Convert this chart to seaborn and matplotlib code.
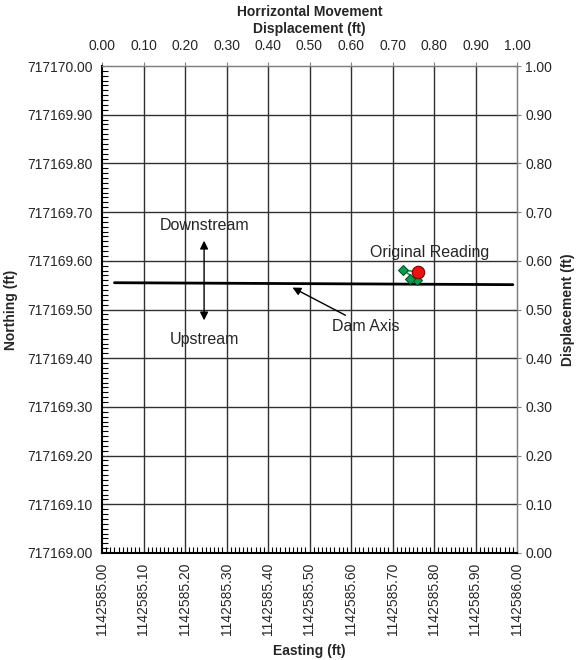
import numpy as np
import pandas as pd
import matplotlib
matplotlib.use("Agg")
import matplotlib.pyplot as plt
from matplotlib.ticker import MultipleLocator
import seaborn as sns

sns.set_style("white")
plt.rcParams['font.family'] = ['Liberation Sans', 'DejaVu Sans']

# ---- data ----
displacement_ticks = [0.0, 0.1, 0.2, 0.3, 0.4, 0.5, 0.6, 0.7, 0.8, 0.9, 1.0]
easting_labels = ["1142585.00", "1142585.10", "1142585.20", "1142585.30", "1142585.40",
                  "1142585.50", "1142585.60", "1142585.70", "1142585.80", "1142585.90",
                  "1142586.00"]
northing_labels = ["717169.00", "717169.10", "717169.20", "717169.30", "717169.40",
                   "717169.50", "717169.60", "717169.70", "717169.80", "717169.90",
                   "717170.00"]
disp_labels = ["0.00", "0.10", "0.20", "0.30", "0.40", "0.50", "0.60", "0.70", "0.80", "0.90", "1.00"]

dam_axis_x = [0.03, 0.99]
dam_axis_y = [0.555, 0.551]

reading_x = [0.762, 0.726, 0.758, 0.742]
reading_y = [0.577, 0.581, 0.560, 0.562]

original_x = [0.762]
original_y = [0.577]

fig = plt.figure(figsize=(5.78, 6.6), dpi=100)
ax = fig.add_axes([102 / 578, 1 - 553 / 660, 415 / 578, 487 / 660])
ax.set_xlim(0, 1)
ax.set_ylim(0, 1)

# grid
for t in displacement_ticks[1:-1]:
    ax.axvline(t, color="#303030", lw=1.0, zorder=1)
    ax.axhline(t, color="#303030", lw=1.0, zorder=1)

# dam axis
sns.lineplot(x=dam_axis_x, y=dam_axis_y, ax=ax, color="black", lw=2.0, zorder=3)

# readings
df = pd.DataFrame({"x": reading_x, "y": reading_y})
sns.lineplot(data=df, x="x", y="y", ax=ax, sort=False, color="#00a050", lw=1.2,
             marker="D", markersize=5, markeredgecolor="#005020", markerfacecolor="#00a050", zorder=4)
sns.scatterplot(x=original_x, y=original_y, ax=ax, color="#ee1111", s=80,
                edgecolor="#800000", linewidth=0.8, zorder=5)

# annotations
fs_ann = 11.5
ax.annotate("", xy=(0.246, 0.647), xytext=(0.246, 0.472),
            arrowprops=dict(arrowstyle="<|-|>", color="black", lw=1.0, mutation_scale=12), zorder=6)
ax.text(0.248, 0.672, "Downstream", ha="center", va="center", fontsize=fs_ann)
ax.text(0.246, 0.439, "Upstream", ha="center", va="center", fontsize=fs_ann)
ax.annotate("Dam Axis", xy=(0.459, 0.545), xytext=(0.555, 0.466),
            arrowprops=dict(arrowstyle="-|>", color="black", lw=1.0, mutation_scale=12,
                            shrinkA=0, shrinkB=0),
            ha="left", va="center", fontsize=fs_ann)
ax.text(0.79, 0.618, "Original Reading", ha="center", va="center", fontsize=fs_ann)

# bottom / left axis (coordinates)
ax.set_xticks(displacement_ticks)
ax.set_xticklabels(easting_labels, rotation=90, fontsize=10)
ax.set_yticks(displacement_ticks)
ax.set_yticklabels(northing_labels, fontsize=10)
ax.xaxis.set_minor_locator(MultipleLocator(0.01))
ax.yaxis.set_minor_locator(MultipleLocator(0.01))
ax.tick_params(axis="both", which="major", direction="inout", length=8, width=1, color="black", pad=3)
ax.tick_params(axis="x", which="minor", direction="in", length=4, width=0.8, color="black", bottom=True)
ax.tick_params(axis="y", which="minor", direction="in", length=4, width=0.8, color="black", left=True)
ax.set_xlabel("Easting (ft)", fontsize=10, fontweight="bold", labelpad=6)
ax.set_ylabel("Northing (ft)", fontsize=10, fontweight="bold", labelpad=6)

for side in ["left", "bottom"]:
    ax.spines[side].set_color("black")
    ax.spines[side].set_linewidth(1.5)
for side in ["top", "right"]:
    ax.spines[side].set_color("#808080")
    ax.spines[side].set_linewidth(1.0)

# top / right axis (displacement)
top = ax.secondary_xaxis("top")
top.set_xticks(displacement_ticks)
top.set_xticklabels(disp_labels, fontsize=10)
top.tick_params(direction="inout", length=6, width=0.8, color="#808080", pad=6)
top.set_xlabel("Horrizontal Movement\nDisplacement (ft)", fontsize=10, fontweight="bold", labelpad=5)
top.spines["top"].set_color("#808080")

right = ax.secondary_yaxis("right")
right.set_yticks(displacement_ticks)
right.set_yticklabels(disp_labels, fontsize=10)
right.tick_params(direction="inout", length=6, width=0.8, color="#808080", pad=3)
right.set_ylabel("Displacement (ft)", fontsize=10, fontweight="bold", labelpad=6)
right.spines["right"].set_color("#808080")

fig.savefig("out.png", dpi=100, facecolor="white")
